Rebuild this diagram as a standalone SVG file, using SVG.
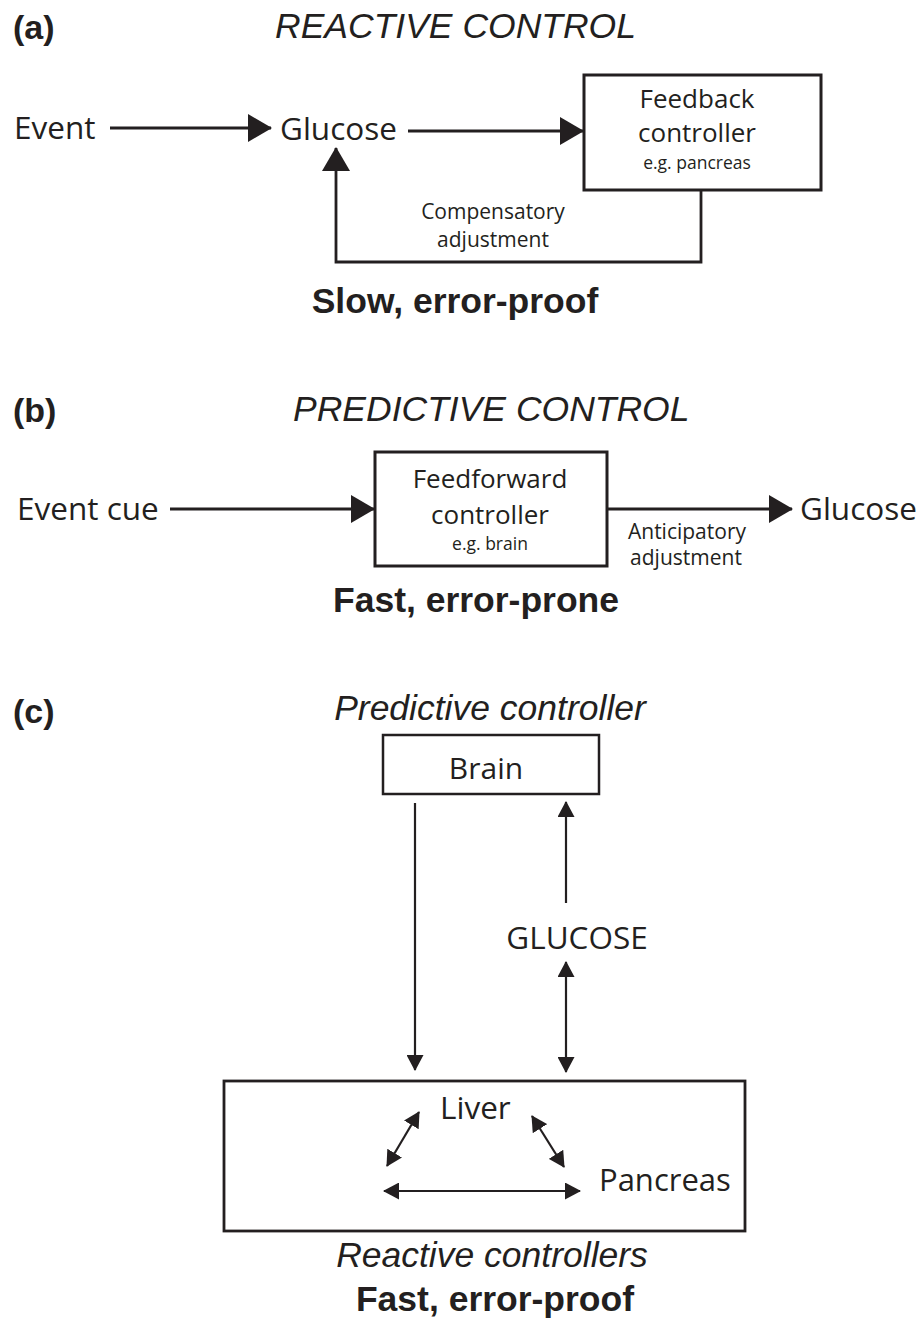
<svg xmlns="http://www.w3.org/2000/svg" width="923" height="1325" viewBox="0 0 923 1325">
<style>
.bg{fill:#fff}
.title{font-family:"Liberation Sans",Arial,sans-serif;font-style:italic;font-size:35.5px;fill:#231f20}
.lbl{font-family:"Liberation Sans",Arial,sans-serif;font-weight:bold;font-size:34px;fill:#231f20}
.bold{font-family:"Liberation Sans",Arial,sans-serif;font-weight:bold;font-size:35.5px;fill:#231f20}
.big{font-family:"Open Sans","Noto Sans",sans-serif;font-size:31.5px;fill:#231f20}
.mid{font-family:"Open Sans","Noto Sans",sans-serif;font-size:26px;fill:#231f20}
.sm{font-family:"Open Sans","Noto Sans",sans-serif;font-size:21px;fill:#231f20}
.xs{font-family:"Open Sans","Noto Sans",sans-serif;font-size:17.5px;fill:#231f20}
.c{text-anchor:middle}
.box{fill:none;stroke:#231f20;stroke-width:3}
.ln{fill:none;stroke:#231f20;stroke-width:2.8}
.ln2{fill:none;stroke:#231f20;stroke-width:2.2}
</style>
<defs>
<marker id="ah" markerUnits="userSpaceOnUse" viewBox="0 0 24 28" refX="23" refY="14" markerWidth="24" markerHeight="28" orient="auto-start-reverse">
<path d="M0,0 L24,14 L0,28 z" fill="#231f20"/>
</marker>
<marker id="as" markerUnits="userSpaceOnUse" viewBox="0 0 16 17" refX="15" refY="8.5" markerWidth="16" markerHeight="17" orient="auto-start-reverse">
<path d="M0,0 L16,8.5 L0,17 z" fill="#231f20"/>
</marker>
</defs>
<rect class="bg" x="0" y="0" width="923" height="1325"/>

<!-- Panel (a) -->
<text class="lbl" x="13" y="39">(a)</text>
<text class="title" x="275" y="38">REACTIVE CONTROL</text>
<g id="a-event"><text class="big" x="14" y="139">Event</text></g>
<g id="a-glucose"><text class="big" x="280" y="140">Glucose</text></g>
<g id="a-feedback">
<rect class="box" x="584" y="75" width="237" height="115"/>
<text class="mid c" x="697" y="108">Feedback</text>
<text class="mid c" x="697" y="142">controller</text>
<text class="xs c" x="697" y="169">e.g. pancreas</text>
</g>
<text class="sm c" x="493" y="219">Compensatory</text>
<text class="sm c" x="493" y="247">adjustment</text>
<text class="bold c" x="455" y="313">Slow, error-proof</text>

<!-- Panel (b) -->
<text class="lbl" x="13" y="422">(b)</text>
<text class="title" x="293" y="421">PREDICTIVE CONTROL</text>
<g id="b-cue"><text class="big" x="17" y="520">Event cue</text></g>
<g id="b-feedforward">
<rect class="box" x="375" y="452" width="232" height="114"/>
<text class="mid c" x="490" y="488">Feedforward</text>
<text class="mid c" x="490" y="524">controller</text>
<text class="xs c" x="490" y="550">e.g. brain</text>
</g>
<g id="b-glucose"><text class="big" x="800" y="520">Glucose</text></g>
<text class="sm c" x="687" y="539">Anticipatory</text>
<text class="sm c" x="686" y="565">adjustment</text>
<text class="bold c" x="476" y="612">Fast, error-prone</text>

<!-- Panel (c) -->
<text class="lbl" x="13" y="723">(c)</text>
<text class="title c" x="490" y="720">Predictive controller</text>
<g id="c-brain">
<rect class="box" x="383" y="735" width="216" height="59" style="stroke-width:2.5"/>
<text class="big c" x="486" y="779" style="font-size:30px">Brain</text>
</g>
<g id="c-glucose"><text class="big c" x="577" y="949">GLUCOSE</text></g>
<g id="c-reactive">
<rect class="box" x="224" y="1081" width="521" height="150" style="stroke-width:2.8"/>
<text class="big" x="440" y="1119" style="font-size:31.5px">Liver</text>
<text class="big" x="599" y="1191" style="font-size:31px">Pancreas</text>
</g>
<text class="title c" x="492" y="1267">Reactive controllers</text>
<text class="bold c" x="495" y="1311">Fast, error-proof</text>

<!-- Connectors -->
<g id="connectors">
<path class="ln" d="M110,128 L271,128" marker-end="url(#ah)"/>
<path class="ln" d="M408,131 L583,131" marker-end="url(#ah)"/>
<path class="ln" d="M701,190 L701,262 L336,262 L336,148" marker-end="url(#ah)"/>
<path class="ln" d="M170,509 L374,509" marker-end="url(#ah)"/>
<path class="ln" d="M607,509 L792,509" marker-end="url(#ah)"/>
<path class="ln2" d="M415,803 L415,1070" marker-end="url(#as)"/>
<path class="ln2" d="M566,903 L566,802" marker-end="url(#as)"/>
<path class="ln2" d="M566,962 L566,1072" marker-start="url(#as)" marker-end="url(#as)"/>
<path class="ln2" d="M419,1112 L387,1166" marker-start="url(#as)" marker-end="url(#as)"/>
<path class="ln2" d="M532,1116 L564,1167" marker-start="url(#as)" marker-end="url(#as)"/>
<path class="ln2" d="M384,1191 L580,1191" marker-start="url(#as)" marker-end="url(#as)"/>
</g>
</svg>
